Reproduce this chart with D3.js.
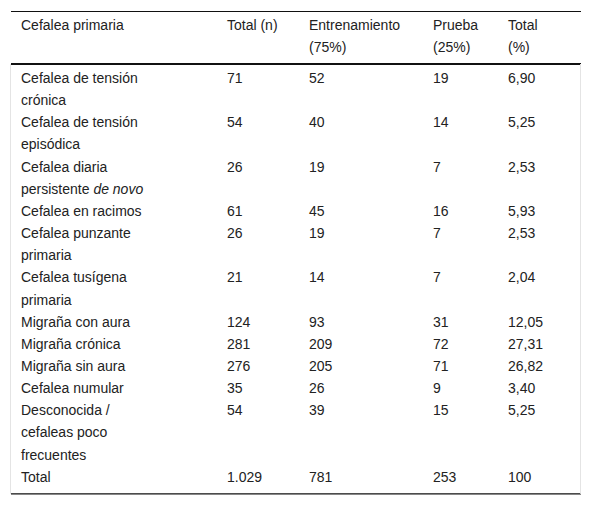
<!DOCTYPE html>
<html>
<head>
<meta charset="utf-8">
<script src="https://cdn.jsdelivr.net/npm/d3@7"></script>
<style>
body { margin: 0; background: #fff; }
text { font-family: "Liberation Sans", Arial, sans-serif; font-size: 14px; fill: #222; }
</style>
</head>
<body>
<div id="table"></div>
<script>
// header and rows (lines split as in the picture; *...* = italic)
var headers = [["Cefalea primaria"], ["Total (n)"], ["Entrenamiento", "(75%)"], ["Prueba", "(25%)"], ["Total", "(%)"]];
var categories = [
  ["Cefalea de tensión", "crónica"],
  ["Cefalea de tensión", "episódica"],
  ["Cefalea diaria", "persistente *de novo*"],
  ["Cefalea en racimos"],
  ["Cefalea punzante", "primaria"],
  ["Cefalea tusígena", "primaria"],
  ["Migraña con aura"],
  ["Migraña crónica"],
  ["Migraña sin aura"],
  ["Cefalea numular"],
  ["Desconocida /", "cefaleas poco", "frecuentes"],
  ["Total"]
];
var totalN = ["71", "54", "26", "61", "26", "21", "124", "281", "276", "35", "54", "1.029"];
var training = ["52", "40", "19", "45", "19", "14", "93", "209", "205", "26", "39", "781"];
var test = ["19", "14", "7", "16", "7", "7", "31", "72", "71", "9", "15", "253"];
var totalPct = ["6,90", "5,25", "2,53", "5,93", "2,53", "2,04", "12,05", "27,31", "26,82", "3,40", "5,25", "100"];

var W = 592, H = 506, left = 11, right = 581;
var colX = [21, 227, 309, 433, 508];
var lineH = 22.15;

var svg = d3.select("#table").append("svg").attr("width", W).attr("height", H);

function writeCell(x, yTop, lines) {
  lines.forEach(function(line, i) {
    var t = svg.append("text").attr("x", x).attr("y", yTop + i * lineH + 16);
    line.split("*").forEach(function(part, k) {
      if (part) t.append("tspan").style("font-style", k % 2 ? "italic" : "normal").text(part);
    });
  });
}

// header
var headTop = 14;
headers.forEach(function(h, i) { writeCell(colX[i], headTop, h); });
var headLine = 64;

// body
var y = headLine + 3;
categories.forEach(function(cat, r) {
  var cells = [cat, [totalN[r]], [training[r]], [test[r]], [totalPct[r]]];
  cells.forEach(function(c, i) { writeCell(colX[i], y, c); });
  y += cat.length * lineH;
});
var bottom = y + 6;

// rules
svg.append("line").attr("x1", left).attr("x2", right).attr("y1", 11.5).attr("y2", 11.5).attr("stroke", "#111").attr("stroke-width", 1);
svg.append("line").attr("x1", left).attr("x2", right).attr("y1", headLine).attr("y2", headLine).attr("stroke", "#111").attr("stroke-width", 2);
svg.append("line").attr("x1", left).attr("x2", right).attr("y1", bottom).attr("y2", bottom).attr("stroke", "#111").attr("stroke-width", 1.3);
[left - 0.5, right - 0.5].forEach(function(x) {
  svg.append("line").attr("x1", x).attr("x2", x).attr("y1", headLine).attr("y2", bottom).attr("stroke", "#e4e4e4").attr("stroke-width", 1);
});
</script>
</body>
</html>
